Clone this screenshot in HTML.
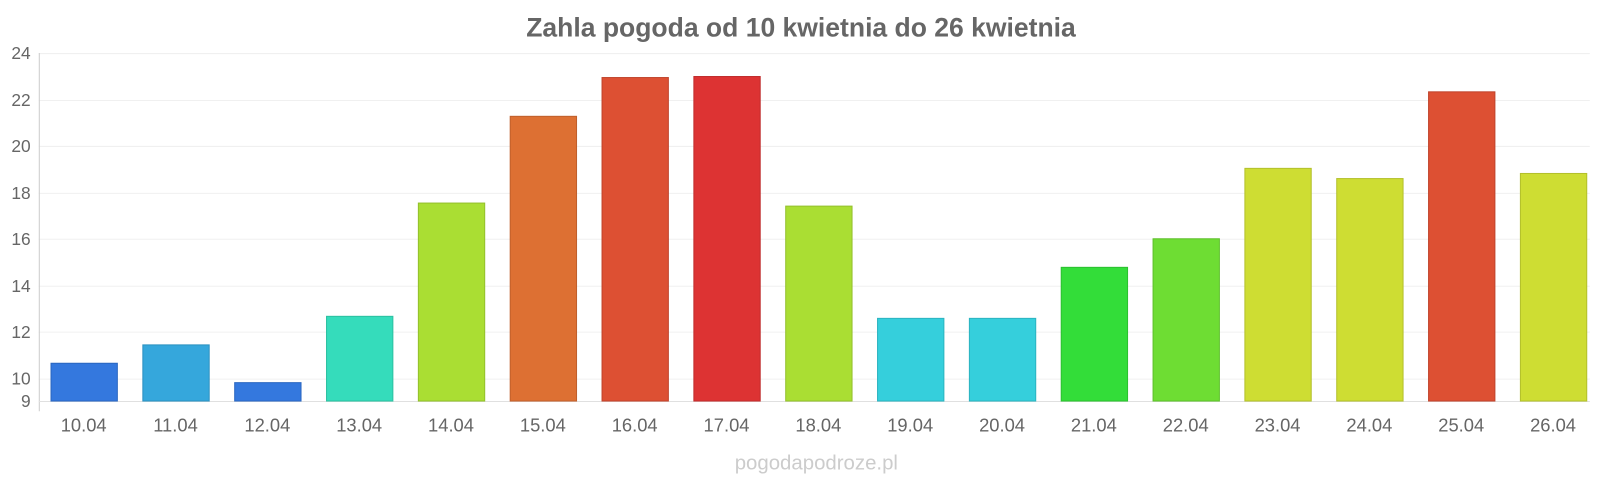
<!DOCTYPE html>
<html><head><meta charset="utf-8"><style>
body{margin:0;background:#fff;}
svg{display:block;font-family:"Liberation Sans",sans-serif;}
</style></head><body>
<svg width="1600" height="480" viewBox="0 0 1568 470.4">
<text x="785" y="36" text-anchor="middle" font-size="26" font-weight="bold" fill="#666">Zahla pogoda od 10 kwietnia do 26 kwietnia</text>
<g stroke="#f0f0f0" stroke-width="1">
<line x1="38" x2="1558" y1="52.5" y2="52.5"/>
<line x1="38" x2="1558" y1="98.5" y2="98.5"/>
<line x1="38" x2="1558" y1="143.5" y2="143.5"/>
<line x1="38" x2="1558" y1="189.5" y2="189.5"/>
<line x1="38" x2="1558" y1="234.5" y2="234.5"/>
<line x1="38" x2="1558" y1="280.5" y2="280.5"/>
<line x1="38" x2="1558" y1="325.5" y2="325.5"/>
<line x1="38" x2="1558" y1="371.5" y2="371.5"/>
</g>
<line x1="38.5" x2="38.5" y1="52" y2="403" stroke="#ccc"/>
<line x1="38" x2="1558" y1="393.5" y2="393.5" stroke="#e0e0e0"/>
<g font-size="17" fill="#666" text-anchor="end">
<text x="30" y="58">24</text><text x="30" y="104">22</text><text x="30" y="149">20</text>
<text x="30" y="195">18</text><text x="30" y="240">16</text><text x="30" y="286">14</text>
<text x="30" y="331">12</text><text x="30" y="377">10</text><text x="30" y="399">9</text>
</g>
<g stroke-width="1">
<rect x="50" y="356" width="65" height="37" fill="#3478de" stroke="#2a66c0"/>
<rect x="140" y="338" width="65" height="55" fill="#35a7dc" stroke="#2b90c0"/>
<rect x="230" y="375" width="65" height="18" fill="#3478de" stroke="#2a66c0"/>
<rect x="320" y="310" width="65" height="83" fill="#35dcbb" stroke="#2bc0a0"/>
<rect x="410" y="199" width="65" height="194" fill="#aade33" stroke="#93c02b"/>
<rect x="500" y="114" width="65" height="279" fill="#dd7033" stroke="#c05f2b"/>
<rect x="590" y="76" width="65" height="317" fill="#dd5033" stroke="#c0432b"/>
<rect x="680" y="75" width="65" height="318" fill="#dd3333" stroke="#c02b2b"/>
<rect x="770" y="202" width="65" height="191" fill="#aade33" stroke="#93c02b"/>
<rect x="860" y="312" width="65" height="81" fill="#35cfdc" stroke="#2bb4c0"/>
<rect x="950" y="312" width="65" height="81" fill="#35cfdc" stroke="#2bb4c0"/>
<rect x="1040" y="262" width="65" height="131" fill="#33dd39" stroke="#2bc02f"/>
<rect x="1130" y="234" width="65" height="159" fill="#6edd33" stroke="#5ec02b"/>
<rect x="1220" y="165" width="65" height="228" fill="#cedd33" stroke="#b3c02b"/>
<rect x="1310" y="175" width="65" height="218" fill="#cedd33" stroke="#b3c02b"/>
<rect x="1400" y="90" width="65" height="303" fill="#dd5033" stroke="#c0432b"/>
<rect x="1490" y="170" width="65" height="223" fill="#cedd33" stroke="#b3c02b"/>
</g>
<g font-size="18" fill="#666" text-anchor="middle">
<text x="82" y="423">10.04</text><text x="172" y="423">11.04</text><text x="262" y="423">12.04</text>
<text x="352" y="423">13.04</text><text x="442" y="423">14.04</text><text x="532" y="423">15.04</text>
<text x="622" y="423">16.04</text><text x="712" y="423">17.04</text><text x="802" y="423">18.04</text>
<text x="892" y="423">19.04</text><text x="982" y="423">20.04</text><text x="1072" y="423">21.04</text>
<text x="1162" y="423">22.04</text><text x="1252" y="423">23.04</text><text x="1342" y="423">24.04</text>
<text x="1432" y="423">25.04</text><text x="1522" y="423">26.04</text>
</g>
<text x="800" y="460" text-anchor="middle" font-size="20" fill="#ccc">pogodapodroze.pl</text>
</svg>
</body></html>
